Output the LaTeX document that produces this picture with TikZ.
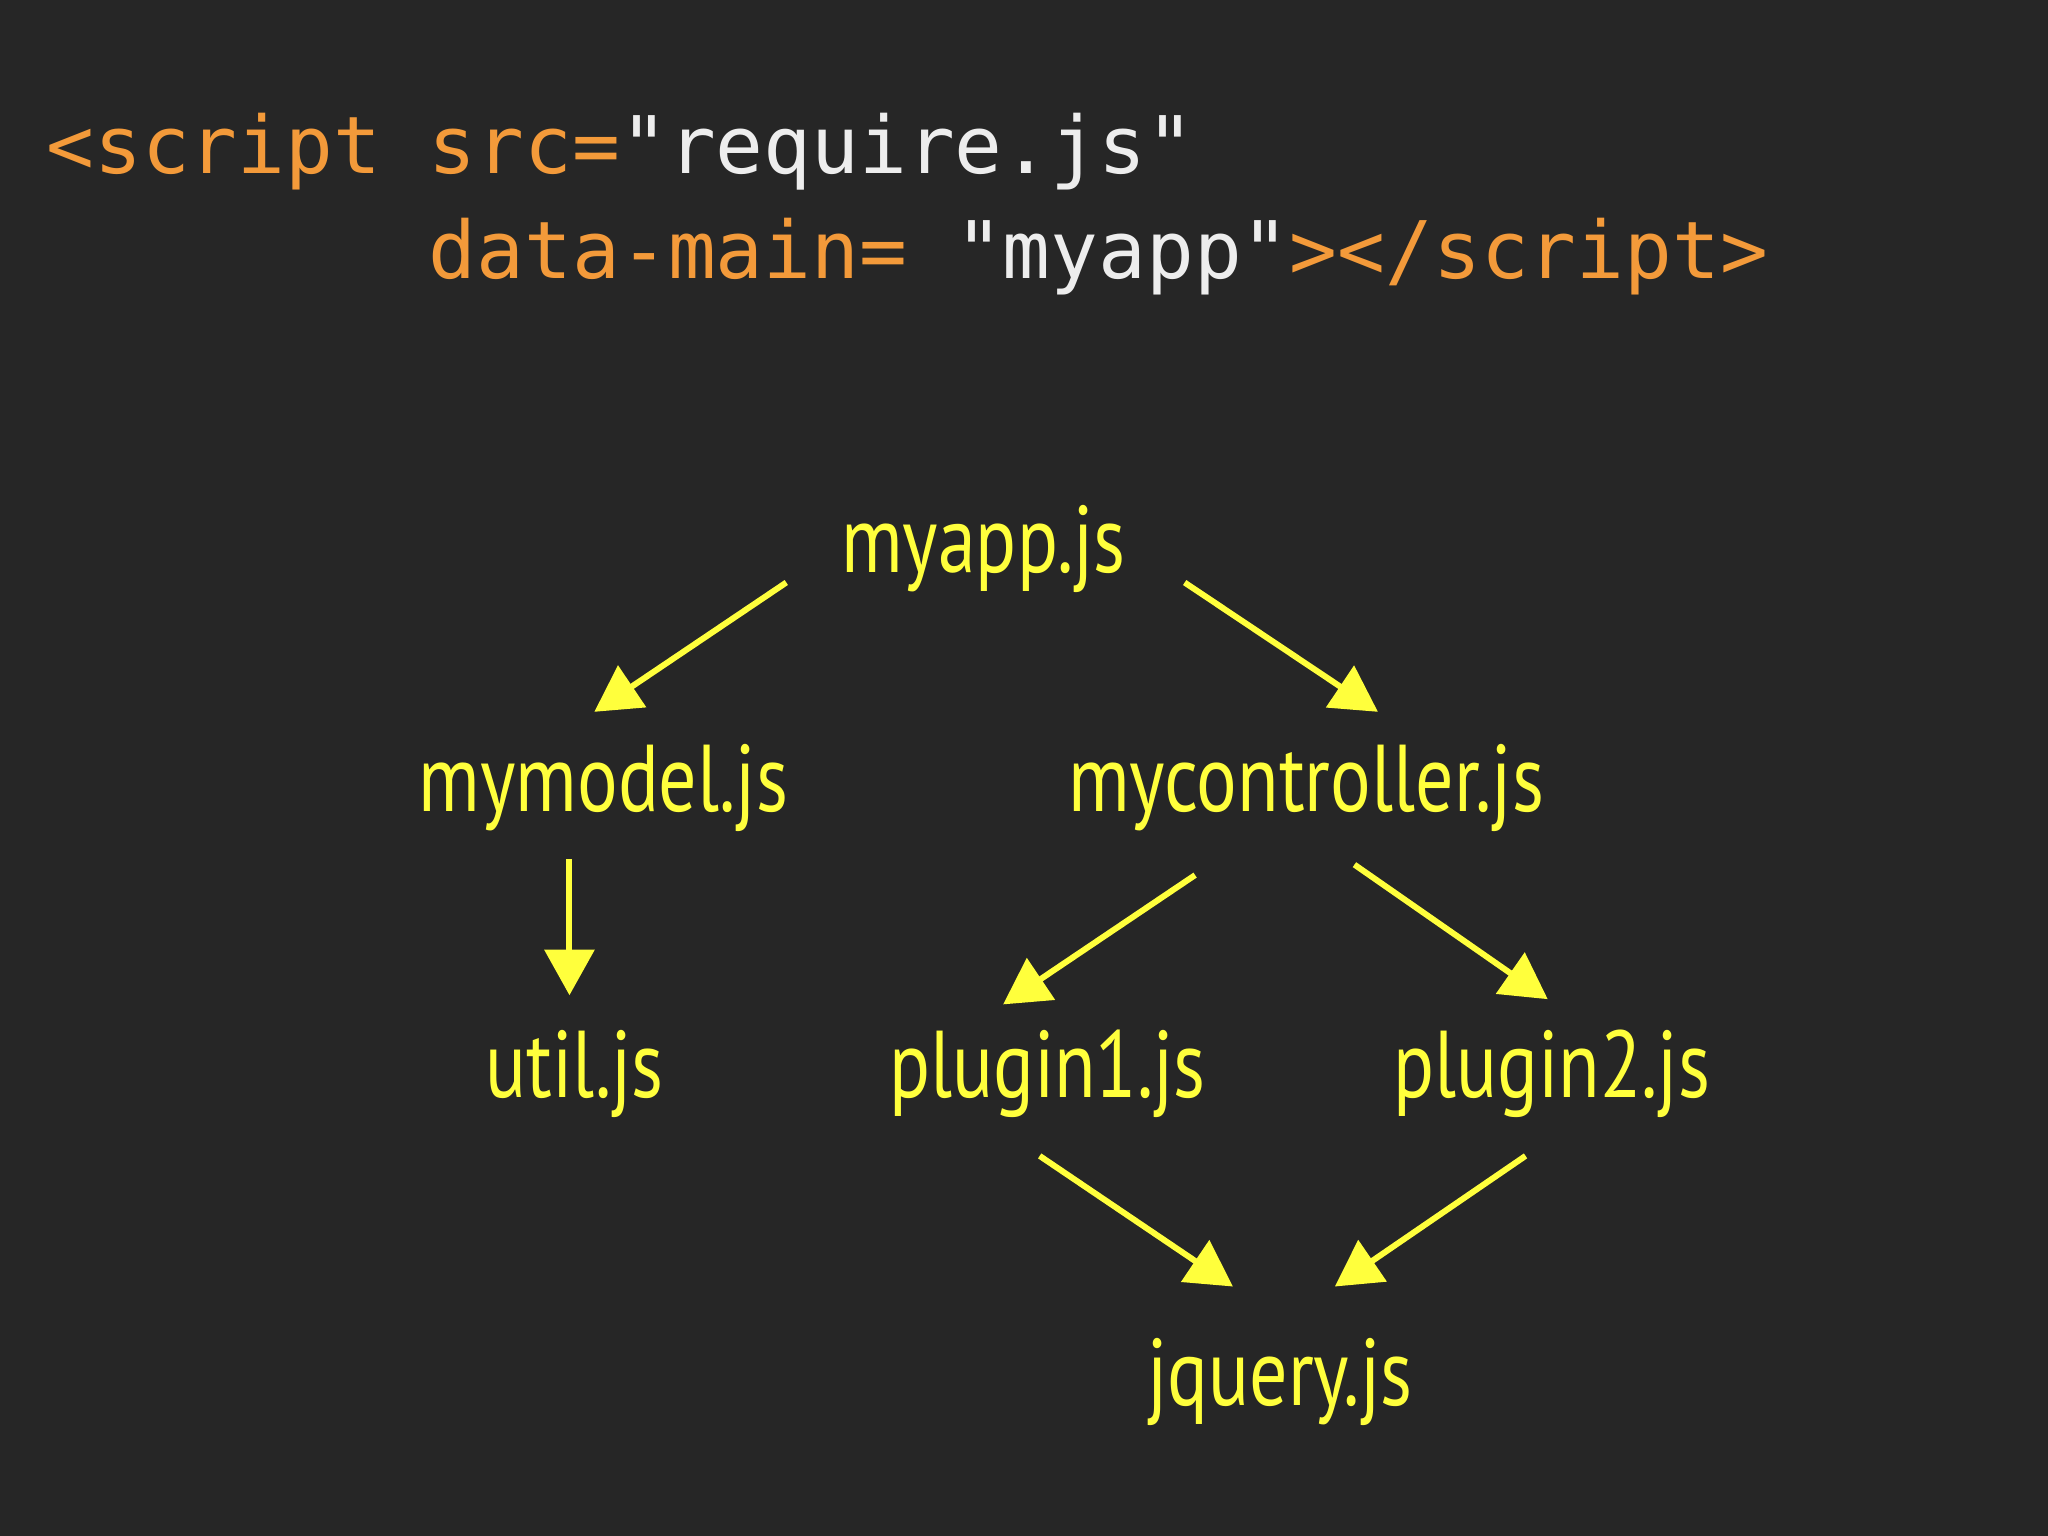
\documentclass[tikz,border=0pt]{standalone}
\usepackage{fontspec}
\newfontfamily\code{DejaVu Sans Mono}
\newfontfamily\lab{PT Sans}
\usetikzlibrary{arrows.meta,calc}
\definecolor{bg}{HTML}{262626}
\definecolor{org}{HTML}{F39A3A}
\definecolor{wht}{HTML}{EDEDED}
\definecolor{yel}{HTML}{FFFF3C}
\begin{document}
\begin{tikzpicture}[x=0.01306cm,y=-0.01306cm,
  lbl/.style={text=yel,font=\lab\fontsize{27pt}{30pt}\selectfont,inner sep=0pt,xscale=0.8},
  cd/.style={anchor=base west,inner sep=0pt,font=\code\fontsize{22.6pt}{26pt}\selectfont},
  arr/.style={draw=yel,line width=1.7pt,-{Triangle[width=14pt,length=13pt]},fill=yel}]
\fill[bg] (0,0) rectangle (1568,1176);
\useasboundingbox (0,0) rectangle (1568,1176);
\node[cd] (l1) at (35,133) {\textcolor{org}{<script src=}\textcolor{wht}{"require.js"}};
\node[cd] (l2) at (35,213) {\phantom{<script }\textcolor{org}{data-main=} \textcolor{wht}{"myapp"}\textcolor{org}{></script>}};
\node[lbl] (myapp) at (753,420) {myapp.js};
\node[lbl] (mymodel) at (462,603) {mymodel.js};
\node[lbl] (mycontroller) at (1000,603) {mycontroller.js};
\node[lbl] (util) at (440,822) {util.js};
\node[lbl] (plugin1) at (802,822) {plugin1.js};
\node[lbl] (plugin2) at (1188,822) {plugin2.js};
\node[lbl] (jquery) at (980,1058) {jquery.js};
\draw[arr] ($(myapp)+(-151,26)$) -- ($(mymodel)+(-7,-58)$);
\draw[arr] ($(myapp)+(154,26)$) -- ($(mycontroller)+(55,-58)$);
\draw[arr] ($(mymodel)+(-26,55)$) -- ($(util)+(-4,-60)$);
\draw[arr] ($(mycontroller)+(-85,67)$) -- ($(plugin1)+(-34,-53)$);
\draw[arr] ($(mycontroller)+(37,59)$) -- ($(plugin2)+(-3,-57)$);
\draw[arr] ($(plugin1)+(-6,63)$) -- ($(jquery)+(-36,-73)$);
\draw[arr] ($(plugin2)+(-20,63)$) -- ($(jquery)+(42,-73)$);
\end{tikzpicture}
\end{document}
